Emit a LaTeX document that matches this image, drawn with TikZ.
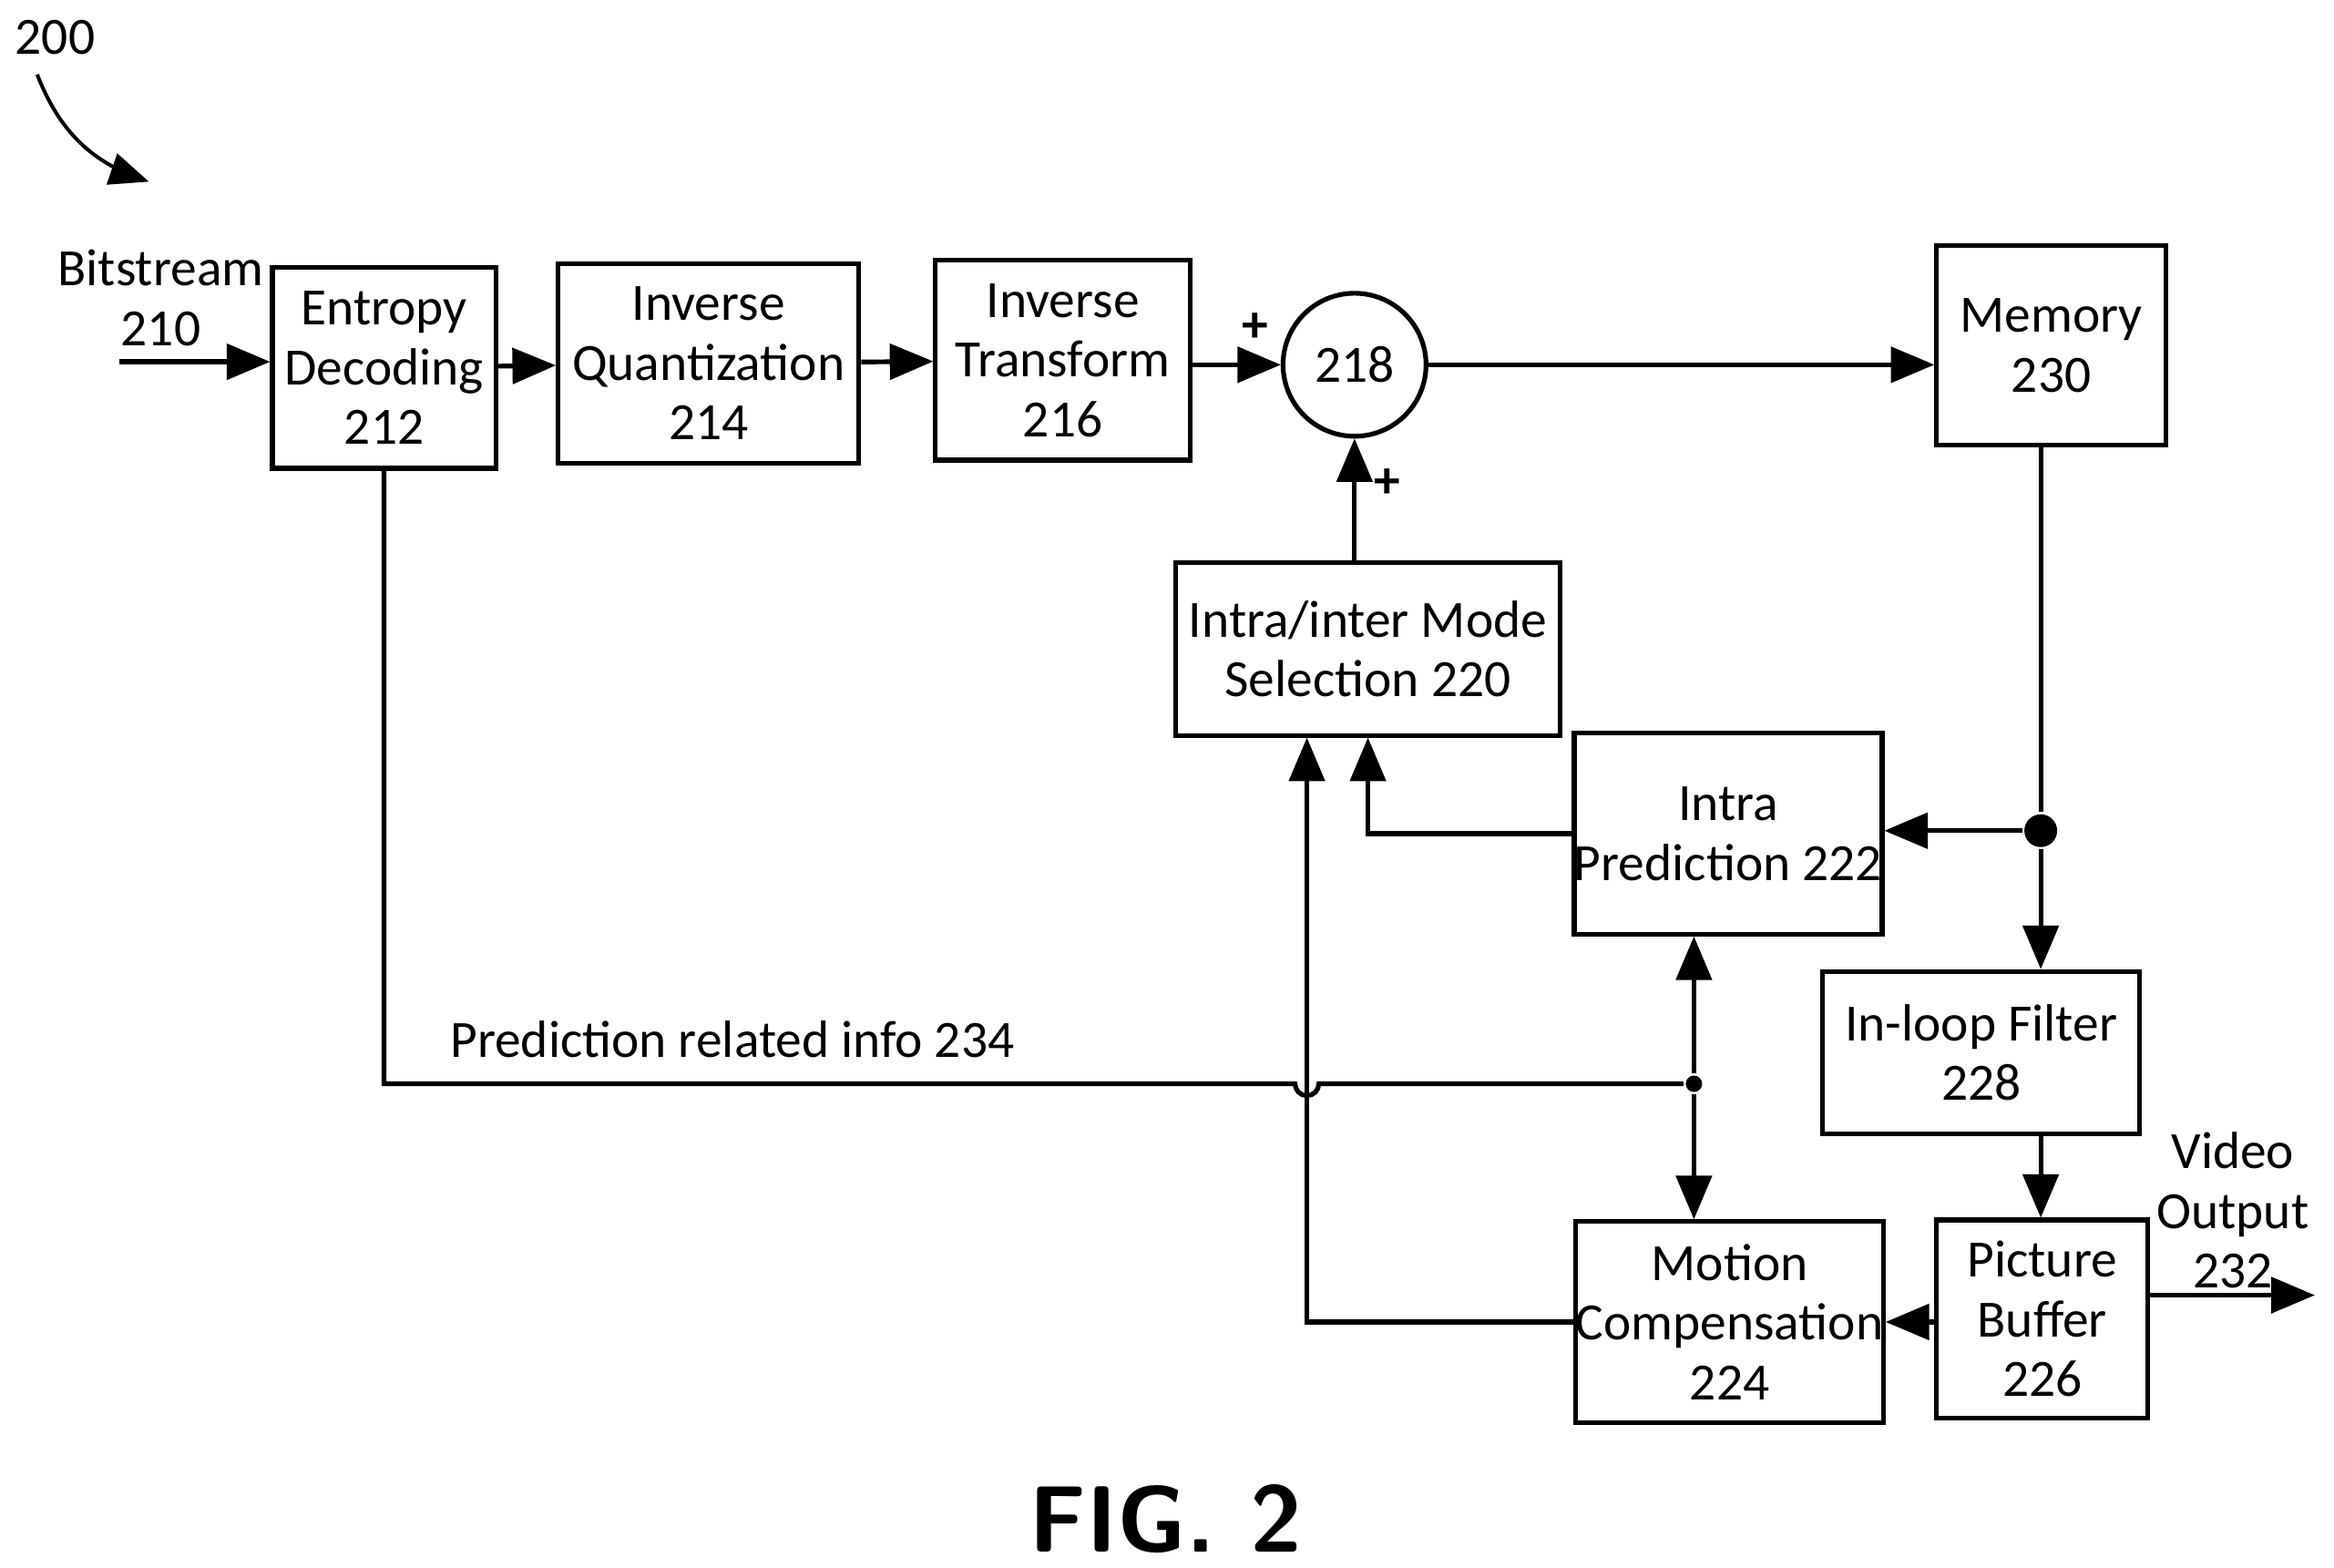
\documentclass[tikz,border=0pt]{standalone}
\usepackage{fontspec}
\setmainfont{Carlito}
\usetikzlibrary{arrows, positioning, calc}

\begin{document}
\begin{tikzpicture}[x=0.01cm, y=-0.01cm, line width=0.9pt, >=triangle 45,
  blk/.style={draw, align=center, inner sep=0pt, font=\fontsize{10}{11.4}\selectfont},
  lbl/.style={align=center, font=\fontsize{10}{11.4}\selectfont},
  dot/.style={circle, fill, inner sep=0pt}]
\useasboundingbox (0,0) rectangle (1568,1053);

% Blocks
\node[blk, minimum width=1.5cm, minimum height=1.35cm] (ent) at (258,247) {Entropy\\Decoding\\212};
\node[blk, minimum width=2.02cm, minimum height=1.34cm] (iq) at (476,244) {Inverse\\Quantization\\214};
\node[blk, minimum width=1.71cm, minimum height=1.34cm] (it) at (714,242) {Inverse\\Transform\\216};
\node[blk, circle, minimum size=0.96cm] (sum) at (910,245) {218};
\node[blk, minimum width=1.54cm, minimum height=1.34cm] (mem) at (1378,232) {Memory\\230};
\node[blk, minimum width=2.58cm, minimum height=1.16cm] (mode) at (919,436) {Intra/inter Mode\\Selection 220};
\node[blk, minimum width=2.01cm, minimum height=1.35cm] (intra) at (1161,560) {Intra\\Prediction 222};
\node[blk, minimum width=2.13cm, minimum height=1.09cm] (filt) at (1331,707) {In-loop Filter\\228};
\node[blk, minimum width=2.02cm, minimum height=1.35cm] (mc) at (1162,888) {Motion\\Compensation\\224};
\node[blk, minimum width=1.42cm, minimum height=1.33cm] (buf) at (1372,886) {Picture\\Buffer\\226};

% Labels
\node[lbl] (num) at (37,25) {200};
\node[lbl] (bits) at (108,200) {Bitstream\\210};
\node[lbl] (info) at (492,698) {Prediction related info 234};
\node[lbl] (vout) at (1500,813) {Video\\Output\\232};
\node[font=\sffamily\bfseries\fontsize{18}{20}\selectfont] (fig) at (783,1020) {FIG. 2};
\node[font=\bfseries] (p1) at (843,220) {+};
\node[font=\bfseries] (p2) at (932,325) {+};

% Junctions
\node[dot, minimum size=0.22cm] (split) at (1371,558) {};
\node[dot, minimum size=0.11cm] (info dot) at (1138,728) {};
\coordinate (bin) at (80,243);
\coordinate (vend) at (1555,870);

% Connectors
\draw[->, line width=0.7pt] (25,50) to[bend right=25] (100,122);
\draw[->] (bin) -- (ent.west |- bin);
\draw[->] (ent) -- (iq);
\draw[->] (iq) -- (it);
\draw[->] (it.east |- sum) -- (sum);
\draw[->] (sum) -- (mem.west |- sum);
\draw[->] (mode.north -| sum) -- (sum);
\draw (mem.south -| split) -- (split);
\draw[->] (split) -- (filt.north -| split);
\draw[->] (split) -- (intra.east |- split);
\draw[->] (filt.south -| split) -- (buf.north -| split);
\draw[->] (buf.west |- mc) -- (mc.east);
\draw[->] (buf.east |- vend) -- (vend);
\draw[->] (intra.west) -- (919,560) -- (mode.south -| 919,0);
\draw[->] (mc.west) -- (878,888) -- (mode.south -| 878,0);
\draw (ent.south) -- (258,728) -- (870,728) arc[start angle=180, end angle=0, radius=8] -- (info dot);
\draw[->] (info dot) -- (intra.south -| info dot);
\draw[->] (info dot) -- (mc.north -| info dot);
\end{tikzpicture}
\end{document}
